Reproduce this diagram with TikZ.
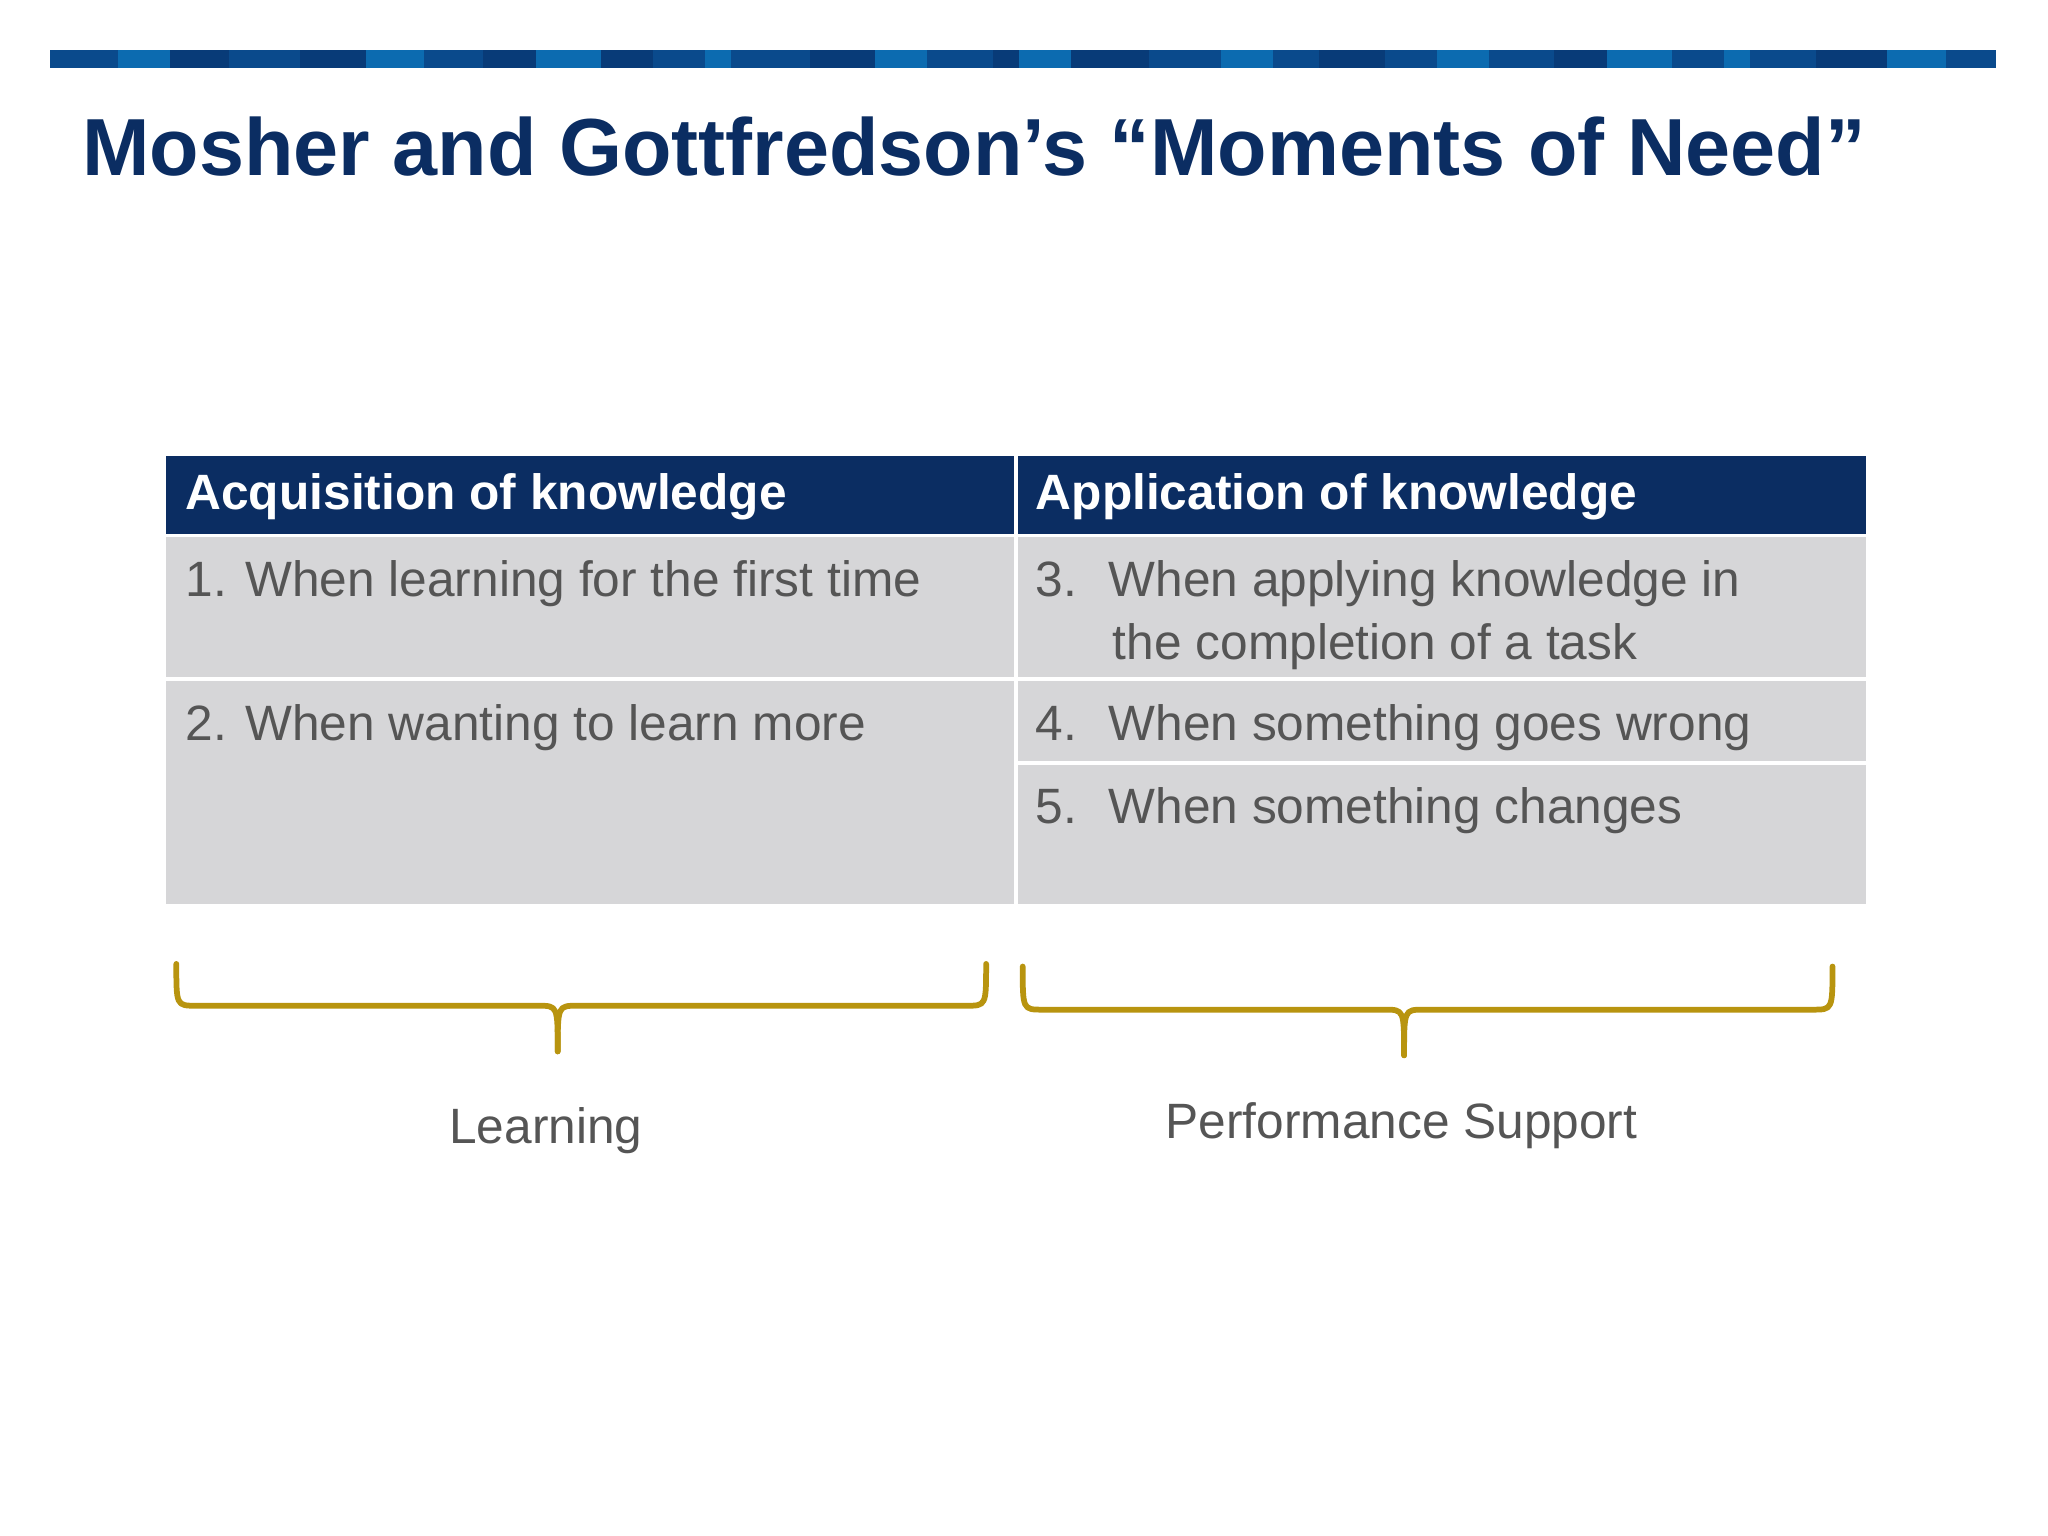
\documentclass[tikz,border=0pt]{standalone}
\usepackage{fontspec}
\setmainfont{Liberation Sans}
\definecolor{navy}{HTML}{0B2D62}
\definecolor{cellg}{HTML}{D6D6D8}
\definecolor{txt}{HTML}{555555}
\definecolor{gold}{HTML}{B8940F}
\definecolor{b1}{HTML}{0A4A8C}
\definecolor{b2}{HTML}{0C6BB0}
\definecolor{b3}{HTML}{083B78}
\tikzset{
 hdr/.style={anchor=west,text=white,font=\bfseries\fontsize{19}{22}\selectfont},
 bod/.style={anchor=north west,text=txt,font=\fontsize{19}{24}\selectfont,align=left},
 brace/.style={draw=gold,line width=2.2pt,line cap=round,line join=round},
 lbl/.style={text=txt,font=\fontsize{19}{22}\selectfont}
}
\begin{document}
\begin{tikzpicture}[x=0.5pt,y=-0.5pt]
\useasboundingbox (0,0) rectangle (1568,1176);
\fill[white] (0,0) rectangle (1568,1176);
% stripe
\foreach \a/\b/\c in {38/90/b1,90/130/b2,130/175/b3,175/230/b1,230/280/b3,280/325/b2,325/370/b1,370/410/b3,410/460/b2,460/500/b3,500/540/b1,540/560/b2,560/620/b1,620/670/b3,670/710/b2,710/760/b1,760/780/b3,780/820/b2,820/880/b3,880/935/b1,935/975/b2,975/1010/b1,1010/1060/b3,1060/1100/b1,1100/1140/b2,1140/1190/b1,1190/1230/b3,1230/1280/b2,1280/1320/b1,1320/1340/b2,1340/1390/b1,1390/1445/b3,1445/1490/b2,1490/1528/b1}
  \fill[\c] (\a,38) rectangle (\b,52);
\node[anchor=west,text=navy,font=\bfseries\fontsize{31}{36}\selectfont] (title) at (56,112) {Mosher and Gottfredson’s “Moments of Need”};
% table
\fill[navy] (127,349) rectangle (1429,409);
\fill[cellg] (127,411) rectangle (1429,692);
\draw[white,line width=1.5pt] (778,349) -- (778,692);
\draw[white,line width=1.5pt] (127,410) -- (1429,410);
\draw[white,line width=1.5pt] (127,520) -- (1429,520);
\draw[white,line width=1.5pt] (778,584) -- (1429,584);
\node[hdr] (h1) at (135,380) {Acquisition of knowledge};
\node[hdr] (h2) at (786,380) {Application of knowledge};
\node[bod] (c1) at (135,422) {1. When learning for the first time};
\node[bod] (c2) at (135,532) {2. When wanting to learn more};
\node[bod] (c3) at (786,422) {3.\hspace{12pt}When applying knowledge in\\\hspace{29.5pt}the completion of a task};
\node[bod] (c4) at (786,532) {4.\hspace{12pt}When something goes wrong};
\node[bod] (c5) at (786,596) {5.\hspace{12pt}When something changes};
% braces
\draw[brace] (135,738) .. controls (135,770) .. (150,770) -- (412,770) .. controls (427,770) .. (427,805);
\draw[brace] (427,805) .. controls (427,770) .. (442,770) -- (740,770) .. controls (755,770) .. (755,738);
\draw[brace] (783,740) .. controls (783,773) .. (798,773) -- (1060,773) .. controls (1075,773) .. (1075,808);
\draw[brace] (1075,808) .. controls (1075,773) .. (1090,773) -- (1388,773) .. controls (1403,773) .. (1403,740);
\node[lbl] (l1) at (418,866) {Learning};
\node[lbl] (l2) at (1073,862) {Performance Support};
\end{tikzpicture}
\end{document}
